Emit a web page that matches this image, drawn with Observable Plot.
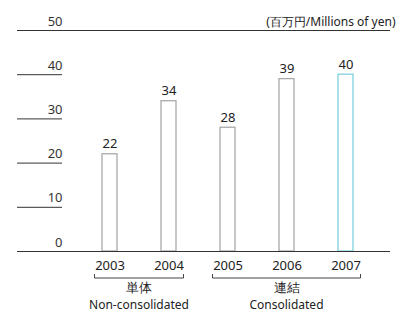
<!DOCTYPE html>
<html>
<head>
<meta charset="utf-8">
<script src="https://cdn.jsdelivr.net/npm/d3@7"></script>
<script src="https://cdn.jsdelivr.net/npm/@observablehq/plot@0.6"></script>
<style>
  html, body { margin: 0; padding: 0; background: #fff; }
  svg { display: block; }
</style>
</head>
<body>
<div id="chart"></div>
<script>
const years = ["2003", "2004", "2005", "2006", "2007"];
const values = [22, 34, 28, 39, 40];
const highlight = ["2007"];
const yTicks = [0, 10, 20, 30, 40, 50];
const unitLabel = "(百万円/Millions of yen)";
const groupJa = ["単体", "連結"];
const groupEn = ["Non-consolidated", "Consolidated"];
const groupFrom = ["2003", "2005"];
const groupTo = ["2004", "2007"];

const data = years.map((y, i) => ({year: y, value: values[i]}));
const groups = groupJa.map((g, i) => ({ja: g, en: groupEn[i], from: groupFrom[i], to: groupTo[i]}));

const FONT = "'Noto Sans', sans-serif";
const ink = "#222";

function brackets(index, scales, values, dims) {
  const x = scales.x;
  const bw = x.bandwidth();
  const yb = scales.y(0);
  const g = d3.create("svg:g");
  for (const gr of groups) {
    const x1 = x(gr.from) + bw / 2 - 15;
    const x2 = x(gr.to) + bw / 2 + 15;
    const yl = yb + 27;
    g.append("path")
      .attr("d", `M${x1},${yl - 4}V${yl}H${x2}V${yl - 4}`)
      .attr("fill", "none").attr("stroke", "#444").attr("stroke-width", 1);
    const cx = (x1 + x2) / 2;
    g.append("text").attr("x", cx).attr("y", yb + 41)
      .attr("text-anchor", "middle").attr("fill", ink)
      .attr("font-family", FONT).attr("font-size", 12.5).text(gr.ja);
    g.append("text").attr("x", cx).attr("y", yb + 58)
      .attr("text-anchor", "middle").attr("fill", ink)
      .attr("font-family", FONT).attr("font-size", 12).text(gr.en);
  }
  return g.node();
}

const chart = Plot.plot({
  width: 402,
  height: 312,
  marginLeft: 17,
  marginRight: 12,
  marginTop: 30,
  marginBottom: 61,
  style: {fontFamily: FONT, fontSize: "13px", color: ink, background: "#fff"},
  x: {type: "band", domain: years, range: [80, 375], paddingInner: 0.745, paddingOuter: 0.3725, axis: null},
  y: {domain: [0, 50], axis: null},
  marks: [
    Plot.ruleY([10, 20, 30, 40], {stroke: "#333", strokeWidth: 1, insetRight: 328}),
    Plot.barY(data, {
      x: "year", y: "value",
      fill: "#fff",
      stroke: d => highlight.includes(d.year) ? "#7fd2de" : "#a9a9a9",
      strokeWidth: 1.3
    }),
    Plot.ruleY([0, 50], {stroke: "#333", strokeWidth: 1}),
    Plot.text(yTicks, {y: d => d, text: d => String(d), frameAnchor: "left", dx: 45, dy: -9, textAnchor: "end", fill: "#333", fontSize: 13}),
    Plot.text(data, {x: "year", y: "value", text: d => String(d.value), dy: -10, fill: ink, fontSize: 13}),
    Plot.text(years, {x: d => d, y: () => 0, text: d => d, dy: 14, fill: ink, fontSize: 13}),
    Plot.text([unitLabel], {y: () => 50, text: d => d, frameAnchor: "right", textAnchor: "end", dx: 5, dy: -8, fill: ink, fontSize: 12}),
    brackets
  ]
});
document.getElementById("chart").appendChild(chart);
</script>
</body>
</html>
